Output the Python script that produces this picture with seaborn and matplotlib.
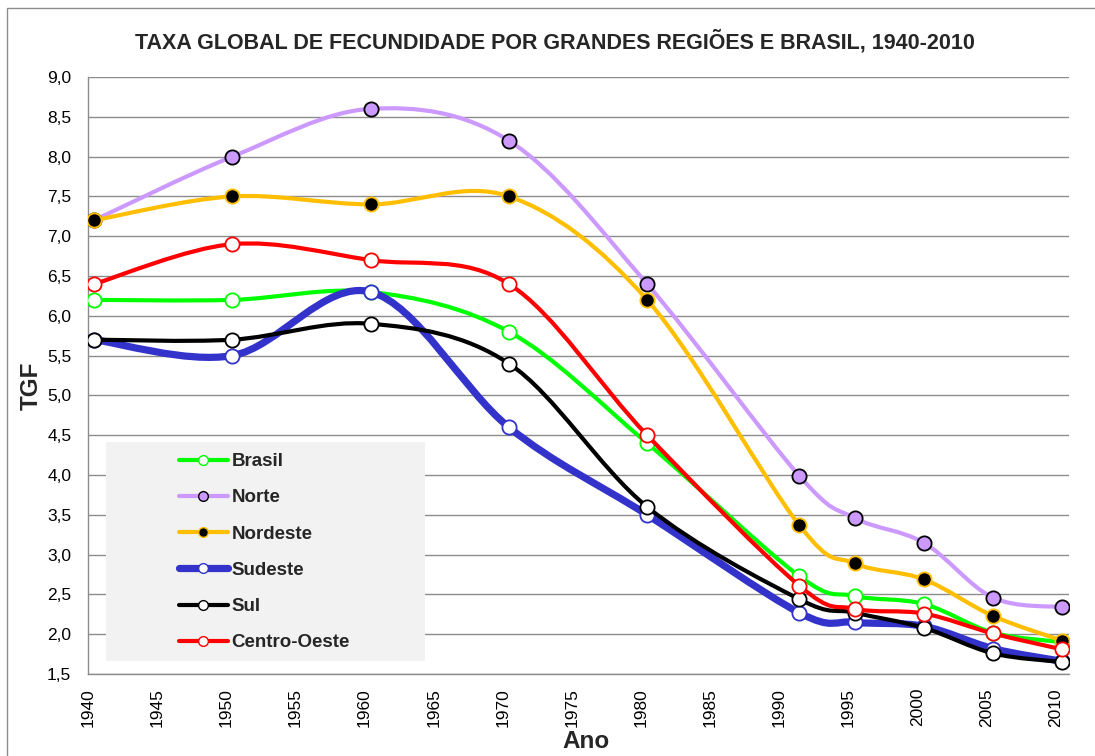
import numpy as np
import pandas as pd
import matplotlib
matplotlib.use('Agg')
import matplotlib.pyplot as plt
import seaborn as sns
from matplotlib.path import Path
from matplotlib.patches import PathPatch, Rectangle
from matplotlib.lines import Line2D
from matplotlib.ticker import FuncFormatter, MultipleLocator

# data
anos = [1940, 1950, 1960, 1970, 1980, 1991, 1995, 2000, 2005, 2010]
brasil = [6.2, 6.2, 6.3, 5.8, 4.4, 2.73, 2.48, 2.38, 2.02, 1.90]
norte = [7.2, 8.0, 8.6, 8.2, 6.4, 3.99, 3.46, 3.15, 2.46, 2.34]
nordeste = [7.2, 7.5, 7.4, 7.5, 6.2, 3.37, 2.89, 2.69, 2.23, 1.92]
sudeste = [5.7, 5.5, 6.3, 4.6, 3.5, 2.27, 2.15, 2.10, 1.82, 1.66]
sul = [5.7, 5.7, 5.9, 5.4, 3.6, 2.44, 2.27, 2.08, 1.76, 1.65]
centro_oeste = [6.4, 6.9, 6.7, 6.4, 4.5, 2.61, 2.32, 2.26, 2.01, 1.81]

series = ['Brasil', 'Norte', 'Nordeste', 'Sudeste', 'Sul', 'Centro-Oeste']
valores = [brasil, norte, nordeste, sudeste, sul, centro_oeste]

df = pd.DataFrame({'ano': anos * len(series),
                   'regiao': np.repeat(series, len(anos)),
                   'tgf': np.concatenate(valores)})

# style: line colour, line width, marker face, marker edge
estilo = {
    'Brasil': ('#00ff00', 3.0, 'white', '#00ff00'),
    'Norte': ('#cc99ff', 3.0, '#cc99ff', 'black'),
    'Nordeste': ('#ffbf00', 3.0, 'black', '#ffbf00'),
    'Sudeste': ('#3333cc', 5.2, 'white', '#3333cc'),
    'Sul': ('black', 3.0, 'white', 'black'),
    'Centro-Oeste': ('#ff0000', 3.0, 'white', '#ff0000'),
}

sns.set_style('white')
plt.rcParams['font.family'] = ['Liberation Sans', 'DejaVu Sans']

fig = plt.figure(figsize=(10.95, 7.56), dpi=100)
ax = fig.add_axes([88 / 1095, 1 - 674 / 756, 981 / 1095, 597 / 756])

# mid-year position of each observation
desloc = 0.44


def curva_suave(xs, ys):
    # excel-like smoothed line (catmull-rom as bezier segments)
    pts = np.column_stack([xs, ys])
    n = len(pts)
    verts = [pts[0]]
    codes = [Path.MOVETO]
    for i in range(n - 1):
        p0 = pts[i - 1] if i > 0 else pts[i]
        p1, p2 = pts[i], pts[i + 1]
        p3 = pts[i + 2] if i + 2 < n else pts[i + 1]
        verts += [p1 + (p2 - p0) / 6, p2 - (p3 - p1) / 6, p2]
        codes += [Path.CURVE4] * 3
    return Path(verts, codes)


handles = []
for k, nome in enumerate(series):
    cor, lw, face, borda = estilo[nome]
    d = df[df['regiao'] == nome]
    x = d['ano'].to_numpy() + desloc
    y = d['tgf'].to_numpy()
    ax.add_patch(PathPatch(curva_suave(x, y), fill=False, edgecolor=cor,
                           lw=lw, capstyle='round', joinstyle='round',
                           zorder=3 + 2 * k))
    sns.scatterplot(x=x, y=y, ax=ax, s=105, color=face, edgecolor=borda,
                    linewidth=1.3, zorder=4 + 2 * k, legend=False)
    handles.append(Line2D([], [], color=cor, lw=lw, marker='o', markersize=7,
                          markerfacecolor=face, markeredgecolor=borda,
                          markeredgewidth=1.0, label=nome))

ax.set_xlim(1940, 2010.95)
ax.set_ylim(1.5, 9.0)
ax.xaxis.set_major_locator(MultipleLocator(5))
ax.yaxis.set_major_locator(MultipleLocator(0.5))
ax.yaxis.set_major_formatter(FuncFormatter(lambda v, p: f'{v:.1f}'.replace('.', ',')))
ax.grid(axis='y', color='#8c8c8c', lw=1.0)
ax.grid(axis='x', visible=False)
ax.set_axisbelow(True)
for s in ['top', 'right']:
    ax.spines[s].set_visible(False)
for s in ['left', 'bottom']:
    ax.spines[s].set_color('#8c8c8c')
    ax.spines[s].set_linewidth(1.0)
ax.tick_params(axis='both', direction='out', length=4.5, width=1.0,
               color='#8c8c8c', labelsize=12.5, labelcolor='black')
ax.tick_params(axis='y', pad=7.5)
ax.tick_params(axis='x', pad=5.5, labelrotation=90)
ax.set_xlabel('')
ax.set_ylabel('')

# legend background box
ax.add_patch(Rectangle((18 / 981, 13 / 597), 319 / 981, 219 / 597,
                       transform=ax.transAxes, facecolor='#f2f2f2',
                       edgecolor='none', zorder=2))
ax.legend(handles=handles, loc='upper left',
          bbox_to_anchor=((179 - 88) / 981, (674 - 453) / 597),
          frameon=False, borderpad=0, borderaxespad=0,
          handlelength=2.6, handletextpad=0.2, labelspacing=1.02,
          prop={'weight': 'bold', 'size': 13.5}).set_zorder(20)

fig.text(555 / 1095, 1 - 42 / 756,
         'TAXA GLOBAL DE FECUNDIDADE POR GRANDES REGIÕES E BRASIL, 1940-2010',
         ha='center', va='center', fontsize=15.5, fontweight='bold')
fig.text(586 / 1095, 1 - 741 / 756, 'Ano', ha='center', va='center',
         fontsize=17.5, fontweight='bold')
fig.text(31 / 1095, 1 - 386 / 756, 'TGF', ha='center', va='center',
         rotation=90, fontsize=17.5, fontweight='bold')

# chart border (right and bottom edges fall outside the image)
fig.add_artist(Rectangle((7 / 1095, -0.1), 1.2, 1.1 - 8 / 756,
                         transform=fig.transFigure, fill=False,
                         edgecolor='#8c8c8c', lw=1.0))

fig.savefig('out.png', dpi=100)
